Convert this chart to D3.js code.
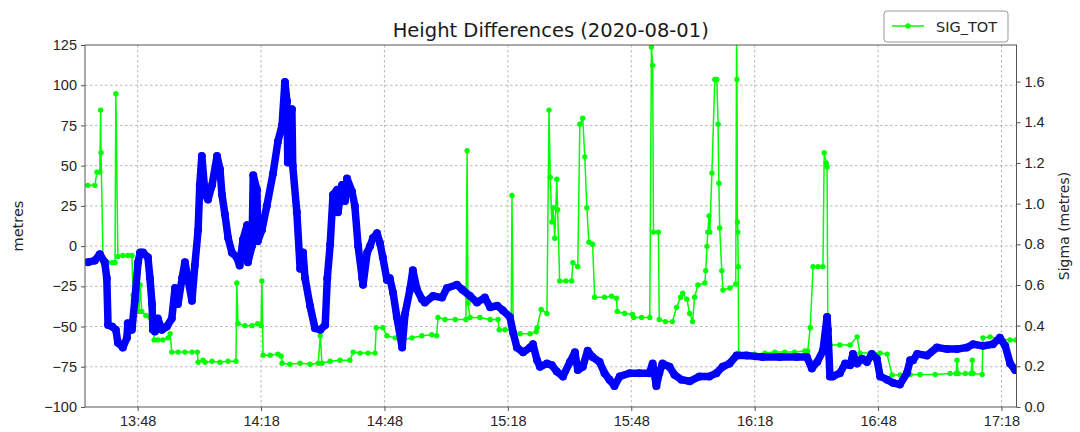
<!doctype html>
<html lang="en">
<head>
<meta charset="utf-8" />
<title>Height Differences (2020-08-01)</title>
<style>
  html, body { margin: 0; padding: 0; background: #fff; }
  svg { display: block; font-family: "DejaVu Sans", sans-serif; }
  .grid line { stroke: #b0b0b0; stroke-dasharray: 2.5,2.5; stroke-width: 0.9; }
  .axis text { fill: #262626; font-size: 14.5px; }
  .axis line { stroke: #555; }
  .axis path { display: none; }
</style>
</head>
<body>
<script src="https://cdn.jsdelivr.net/npm/d3@7"></script>
<script>

// Height differences (metres), time in minutes after 13:00
var heightMin = [35.9, 37.6, 38.8, 40.0, 40.5, 40.8, 41.8, 42.7, 43.2, 44.4, 45.4, 45.6, 46.6, 47.3, 48.1, 48.6,
  49.3, 50.5, 51.0, 51.5, 51.7, 52.2, 52.9, 53.9, 55.1, 56.3, 57.1, 57.8, 58.8, 59.5, 60.2, 61.2, 61.9, 62.7,
  63.1, 63.6, 64.4, 65.1, 66.1, 67.3, 68.0, 68.5, 69.2, 70.0, 70.9, 72.1, 72.8, 73.6, 74.6, 74.8, 75.8, 76.1,
  77.0, 77.2, 78.2, 79.4, 80.9, 82.1, 83.1, 83.8, 84.3, 84.5, 85.5, 85.7, 86.7, 87.5, 88.2, 88.7, 89.9, 91.1,
  92.4, 93.6, 94.1, 94.8, 95.5, 96.5, 96.7, 97.7, 98.4, 98.9, 100.1, 100.8, 101.6, 102.6, 102.8, 103.8, 104.5,
  105.2, 106.2, 106.9, 107.6, 108.6, 109.3, 110.1, 111.0, 112.3, 113.0, 114.2, 114.9, 115.9, 117.1, 117.8,
  119.8, 122.0, 123.2, 125.6, 126.9, 128.8, 130.5, 132.4, 133.7, 135.4, 136.8, 138.5, 139.3, 140.2, 141.7,
  143.4, 144.1, 145.1, 145.8, 147.5, 148.7, 149.9, 151.4, 153.1, 154.3, 155.0, 156.2, 157.4, 158.6, 160.3,
  161.5, 162.7, 163.9, 165.2, 167.6, 170.0, 172.4, 173.2, 174.1, 174.8, 175.6, 177.3, 178.5, 180.2, 182.2,
  184.6, 187.0, 188.7, 190.2, 191.9, 193.6, 196.1, 199.9, 204.1, 208.2, 210.7, 211.9, 213.2, 214.6, 215.6,
  215.8, 216.3, 217.0, 218.7, 220.0, 221.2, 221.9, 222.9, 224.1, 225.3, 226.5, 227.7, 228.5, 230.2, 231.6,
  233.3, 235.0, 235.8, 236.5, 237.5, 239.9, 242.3, 244.8, 247.2, 249.6, 251.1, 253.5, 255.9, 257.6, 258.9,
  260.1, 261.3];
var heightVal = [-10, -9, -5, -10, -20, -49, -50, -52, -60, -63, -57, -48, -52, -34, -10, -4,
  -4, -7, -20, -36, -52, -53, -45, -52, -50, -45, -26, -36, -20, -10, -20, -34, -12, 10,
  38, 56, 32, 29, 38, 56, 48, 32, 20, 5, -4, -7, -12, 4, 13, -10, 0, 44,
  35, 3, 10, 25, 45, 65, 75, 102, 90, 52, 85, 50, 21, -14, -4, -20, -37, -51,
  -52, -49, -20, 1, 32, 35, 21, 38, 28, 42, 34, 25, 0, -20, -24, -4, 0,
  5, 8, 2, -7, -21, -20, -29, -44, -63, -42, -27, -15, -27, -33, -35,
  -31, -32, -26, -24, -27, -31, -35, -32, -38, -37, -40, -44, -54, -63, -66,
  -63, -61, -71, -75, -73, -74, -78, -81, -72, -66, -77, -75, -65, -69, -72,
  -79, -83, -87, -81, -79, -79, -79, -73, -87, -79, -73, -75, -80, -83, -84,
  -81, -81, -79, -75, -73, -68, -68, -69, -69, -69, -69, -76, -72, -65, -44,
  -52, -81, -81, -79, -73, -74, -67, -73, -70, -72, -67, -70, -81, -83, -85,
  -86, -79, -71, -71, -67, -68, -63, -64, -64, -63, -61, -62, -61, -57, -62,
  -73, -77];

// SIG_TOT (metres), time in minutes after 13:00
var sigmaMin = [35.9, 37.6, 38.1, 38.8, 39.0, 39.1, 39.6, 40.8, 41.8, 42.5, 42.7, 43.2, 44.4, 45.6, 46.6, 46.9,
  47.6, 48.1, 48.3, 48.6, 49.0, 50.0, 51.0, 51.5, 52.0, 52.9, 54.1, 55.4, 55.9, 56.3, 57.8, 59.5, 61.2, 62.5,
  62.7, 63.9, 64.4, 66.1, 68.0, 70.0, 71.9, 72.1, 72.4, 74.1, 75.8, 77.2, 78.0, 78.2, 78.5, 80.2, 82.1, 82.9,
  83.1, 85.0, 87.5, 89.9, 91.9, 92.4, 92.8, 94.8, 97.2, 99.6, 100.4, 102.1, 104.0, 105.7, 106.0, 107.6, 108.6,
  110.6, 112.5, 114.7, 117.1, 119.5, 120.7, 121.0, 122.7, 125.2, 127.8, 128.1, 128.3, 128.8, 131.2, 133.7,
  135.6, 135.9, 137.3, 138.8, 139.0, 139.3, 141.0, 143.4, 144.9, 145.1, 146.1, 147.5, 148.0, 148.3, 148.7,
  149.0, 149.4, 149.9, 150.1, 150.6, 152.1, 153.5, 153.8, 155.0, 155.5, 156.2, 156.7, 157.2, 157.7, 158.6,
  159.1, 161.5, 163.2, 164.4, 164.6, 166.4, 168.3, 168.6, 170.5, 172.5, 172.9, 173.2, 173.4, 174.6, 174.8,
  176.3, 178.0, 179.0, 180.0, 180.5, 181.5, 182.2, 182.9, 183.4, 184.2, 185.9, 186.1, 186.4, 186.6, 186.9,
  187.1, 187.6, 188.3, 188.8, 189.1, 189.3, 189.5, 190.0, 190.3, 192.0, 193.4, 193.6, 193.7, 193.8, 193.9,
  194.0, 194.1, 195.6, 198.0, 200.5, 202.9, 205.3, 207.7, 210.2, 210.9, 211.5, 212.2, 213.4, 214.6, 214.9,
  215.4, 215.6, 215.8, 216.3, 218.7, 221.2, 222.9, 223.6, 226.1, 228.5, 230.2, 231.4, 233.4, 235.8, 238.2,
  241.9, 245.5, 247.0, 247.2, 247.5, 249.2, 250.6, 250.9, 251.1, 253.3, 253.5, 255.2, 257.6, 260.1, 261.5];
var sigmaVal = [1.09, 1.09, 1.155, 1.155, 1.46, 1.25, 0.71, 0.71, 0.71, 0.71, 1.54, 0.74, 0.745, 0.745, 0.745, 0.55,
  0.55, 0.66, 0.47, 0.60, 0.47, 0.45, 0.44, 0.55, 0.33, 0.33, 0.33, 0.34, 0.36, 0.27, 0.27, 0.27, 0.27, 0.27,
  0.22, 0.23, 0.22, 0.225, 0.22, 0.225, 0.225, 0.61, 0.41, 0.40, 0.40, 0.41, 0.40, 0.62, 0.255, 0.255, 0.26, 0.25,
  0.215, 0.21, 0.215, 0.21, 0.215, 0.35, 0.215, 0.225, 0.23, 0.23, 0.27, 0.265, 0.265, 0.265, 0.39, 0.39, 0.35,
  0.34, 0.33, 0.34, 0.35, 0.355, 0.35, 0.44, 0.43, 0.43, 0.43, 1.26, 0.51, 0.44, 0.44, 0.43,
  0.43, 0.38, 0.38, 0.38, 1.04, 0.36, 0.36, 0.36, 0.37, 0.39, 0.48, 0.46, 1.46, 1.13, 0.91,
  0.98, 0.83, 1.12, 0.97, 0.62, 0.62, 0.62, 0.71, 0.69, 1.39, 1.42, 1.23, 0.98, 0.81, 0.80,
  0.54, 0.54, 0.545, 0.535, 0.47, 0.46, 0.455, 0.44, 0.44, 0.44, 1.77, 1.68, 0.86, 0.86, 0.43,
  0.42, 0.42, 0.49, 0.54, 0.56, 0.53, 0.46, 0.42, 0.54, 0.60, 0.61, 0.67, 0.79, 0.86, 0.94,
  0.86, 1.15, 1.61, 1.61, 1.39, 1.10, 0.88, 0.67, 0.575, 0.585, 0.605, 1.85, 1.61, 0.91, 0.86,
  0.69, 0.265, 0.26, 0.26, 0.265, 0.27, 0.27, 0.27, 0.275, 0.275, 0.39, 0.69, 0.69, 0.69, 1.25,
  1.20, 1.18, 0.33, 0.305, 0.305, 0.305, 0.345, 0.265, 0.265, 0.265, 0.26, 0.157, 0.157, 0.16, 0.16,
  0.16, 0.165, 0.165, 0.23, 0.165, 0.165, 0.165, 0.23, 0.165, 0.16, 0.34, 0.345, 0.335, 0.33, 0.33];

// Axis ticks
var timeTicks = ["13:48", "14:18", "14:48", "15:18", "15:48", "16:18", "16:48", "17:18"];
var metreTicks = [-100, -75, -50, -25, 0, 25, 50, 75, 100, 125];
var sigmaTicks = [0.0, 0.2, 0.4, 0.6, 0.8, 1.0, 1.2, 1.4, 1.6];
var timeRange = [35.2, 261.65];
var metreRange = [-100, 125];
var sigmaRange = [0, 1.78];

var width = 1080, height = 432;
var margin = {top: 45, right: 63.5, bottom: 25, left: 85};
var plotW = width - margin.left - margin.right;
var plotH = height - margin.top - margin.bottom;

function toDate(m) {
  return new Date(2020, 7, 1, 13, 0, Math.round(m * 60));
}
var parseTick = d3.timeParse("%Y-%m-%d %H:%M");

var x = d3.scaleTime()
  .domain(timeRange.map(toDate))
  .range([0, plotW]);
var y = d3.scaleLinear().domain(metreRange).range([plotH, 0]);
var y2 = d3.scaleLinear().domain(sigmaRange).range([plotH, 0]);

var svg = d3.select('body').append('svg')
  .attr('width', width)
  .attr('height', height);

var g = svg.append('g')
  .attr('transform', 'translate(' + margin.left + ',' + margin.top + ')');

svg.append('defs').append('clipPath').attr('id', 'plot-clip')
  .append('rect').attr('width', plotW).attr('height', plotH);

// grid
var tickDates = timeTicks.map(function (t) { return parseTick('2020-08-01 ' + t); });
g.append('g').attr('class', 'grid')
  .selectAll('line').data(tickDates).enter().append('line')
  .attr('x1', function (d) { return x(d); })
  .attr('x2', function (d) { return x(d); })
  .attr('y1', 0).attr('y2', plotH);
g.append('g').attr('class', 'grid')
  .selectAll('line').data(metreTicks.slice(1, -1)).enter().append('line')
  .attr('y1', function (d) { return y(d); })
  .attr('y2', function (d) { return y(d); })
  .attr('x1', 0).attr('x2', plotW);

// series
var plot = g.append('g').attr('clip-path', 'url(#plot-clip)');

var sigmaData = sigmaMin.map(function (m, i) { return [toDate(m), sigmaVal[i]]; });
var heightData = heightMin.map(function (m, i) { return [toDate(m), heightVal[i]]; });

plot.append('path')
  .datum(sigmaData)
  .attr('fill', 'none')
  .attr('stroke', '#00ff00')
  .attr('stroke-width', 1.5)
  .attr('d', d3.line()
    .x(function (d) { return x(d[0]); })
    .y(function (d) { return y2(d[1]); }));
plot.append('g').selectAll('circle')
  .data(sigmaData).enter().append('circle')
  .attr('cx', function (d) { return x(d[0]); })
  .attr('cy', function (d) { return y2(d[1]); })
  .attr('r', 2.7)
  .attr('fill', '#00ff00');

plot.append('path')
  .datum(heightData)
  .attr('fill', 'none')
  .attr('stroke', '#0000ff')
  .attr('stroke-width', 7.5)
  .attr('stroke-linejoin', 'round')
  .attr('stroke-linecap', 'round')
  .attr('d', d3.line()
    .x(function (d) { return x(d[0]); })
    .y(function (d) { return y(d[1]); }));
plot.append('g').selectAll('circle')
  .data(heightData).enter().append('circle')
  .attr('cx', function (d) { return x(d[0]); })
  .attr('cy', function (d) { return y(d[1]); })
  .attr('r', 4)
  .attr('fill', '#0000ff');

// axes
g.append('g').attr('class', 'axis')
  .attr('transform', 'translate(0,' + plotH + ')')
  .call(d3.axisBottom(x).tickValues(tickDates).tickFormat(d3.timeFormat('%H:%M'))
    .tickSize(4).tickPadding(5));
g.append('g').attr('class', 'axis')
  .call(d3.axisLeft(y).tickValues(metreTicks).tickSize(4).tickPadding(4));
g.append('g').attr('class', 'axis')
  .attr('transform', 'translate(' + plotW + ',0)')
  .call(d3.axisRight(y2).tickValues(sigmaTicks).tickFormat(d3.format('.1f'))
    .tickSize(4).tickPadding(4));

// frame
g.append('rect')
  .attr('width', plotW).attr('height', plotH)
  .attr('fill', 'none').attr('stroke', '#555').attr('stroke-width', 1);

// labels
svg.append('text')
  .attr('x', margin.left + plotW / 2).attr('y', 37)
  .attr('text-anchor', 'middle')
  .attr('font-size', 19.5).attr('fill', '#1a1a1a')
  .text('Height Differences (2020-08-01)');
svg.append('text')
  .attr('transform', 'translate(23,' + (margin.top + plotH / 2) + ') rotate(-90)')
  .attr('text-anchor', 'middle')
  .attr('font-size', 14.5).attr('fill', '#262626')
  .text('metres');
svg.append('text')
  .attr('transform', 'translate(1069,' + (margin.top + plotH / 2) + ') rotate(-90)')
  .attr('text-anchor', 'middle')
  .attr('font-size', 14).attr('fill', '#262626')
  .text('Sigma (metres)');

// legend
var legend = svg.append('g').attr('transform', 'translate(884,11)');
legend.append('rect')
  .attr('width', 124).attr('height', 31).attr('rx', 3)
  .attr('fill', '#fff').attr('stroke', '#999').attr('stroke-width', 1);
legend.append('line')
  .attr('x1', 8).attr('x2', 40).attr('y1', 15).attr('y2', 15)
  .attr('stroke', '#00ff00').attr('stroke-width', 1.5);
legend.append('circle').attr('cx', 24).attr('cy', 15).attr('r', 2.7).attr('fill', '#00ff00');
legend.append('text')
  .attr('x', 52).attr('y', 20.5)
  .attr('font-size', 14.5).attr('fill', '#262626')
  .text('SIG_TOT');

</script>
</body>
</html>
